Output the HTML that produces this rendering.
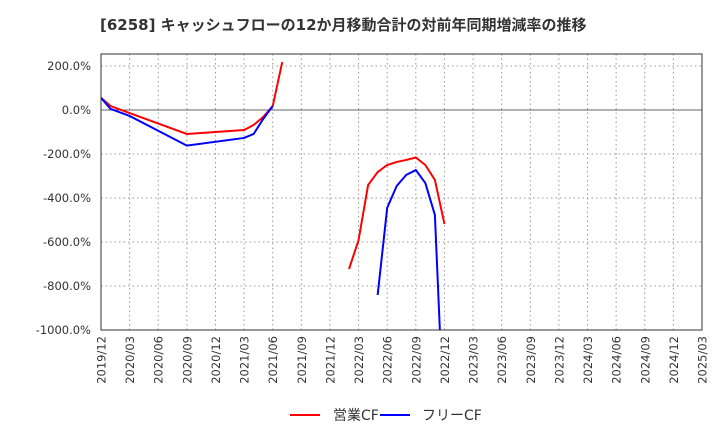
<!DOCTYPE html>
<html><head><meta charset="utf-8"><style>
body{margin:0;background:#fff;font-family:"DejaVu Sans","Noto Sans CJK JP",sans-serif}
</style></head><body>
<svg id="c" width="720" height="440" xmlns="http://www.w3.org/2000/svg" font-family="DejaVu Sans, Noto Sans CJK JP, sans-serif">
<text x="100" y="30" font-size="15" font-weight="bold" fill="#333">[6258]  キャッシュフローの12か月移動合計の対前年同期増減率の推移</text>
<defs><clipPath id="pc"><rect x="101" y="54" width="601" height="276"/></clipPath></defs>
<g id="grid"></g><g id="series" clip-path="url(#pc)"></g><g id="axes"></g>
<g>
<line x1="290" y1="415" x2="320" y2="415" stroke="#f00" stroke-width="2"/>
<text x="333" y="420" font-size="14" fill="#333">営業CF</text>
<line x1="380" y1="415" x2="410" y2="415" stroke="#00f" stroke-width="2"/>
<text x="422" y="420" font-size="14" fill="#333">フリーCF</text>
</g>
</svg>
<script>
const xLabels=["2019/12","2020/03","2020/06","2020/09","2020/12","2021/03","2021/06","2021/09","2021/12","2022/03","2022/06","2022/09","2022/12","2023/03","2023/06","2023/09","2023/12","2024/03","2024/06","2024/09","2024/12","2025/03"];
const yTicks=[200,0,-200,-400,-600,-800,-1000];
const opMonths=[0,1,3,9,15,16,17,18,19, 26,27,28,29,30,31,32,33,34,35,36];
const opVals=[55,18,-14,-109,-91,-68,-32,18,218, -723,-591,-341,-282,-250,-236,-227,-216,-250,-318,-518];
const opSeg=[0,0,0,0,0,0,0,0,0, 1,1,1,1,1,1,1,1,1,1,1];
const fcMonths=[0,1,3,9,15,16,17,18, 29,30,31,32,33,34,35,36];
const fcVals=[55,5,-27,-162,-127,-109,-41,18, -841,-445,-345,-295,-273,-332,-477,-1480];
const fcSeg=[0,0,0,0,0,0,0,0, 1,1,1,1,1,1,1,1];
const X=m=>101+m*601/63, Y=v=>110-v*44/200;
const ns="http://www.w3.org/2000/svg";
function mk(t,a,p){const e=document.createElementNS(ns,t);for(const k in a)e.setAttribute(k,a[k]);p.appendChild(e);return e;}
const g=document.getElementById('grid'),ax=document.getElementById('axes'),s=document.getElementById('series');
xLabels.forEach((l,i)=>{const x=X(i*3);
 const ln=mk('line',{x1:x,x2:x,y1:54,y2:330,stroke:'#999','stroke-dasharray':'1.5,3'},g);
 
 const t=mk('text',{transform:`translate(${x+4.5},336) rotate(-90)`,'text-anchor':'end','font-size':11.5,fill:'#333'},ax);t.textContent=l;
 });
yTicks.forEach(v=>{const y=Y(v);
 const ln=mk('line',{x1:101,x2:702,y1:y,y2:y,stroke:v==0?'#666':'#999','stroke-dasharray':v==0?'none':'1.5,3'},g);
 
 const t=mk('text',{x:91,y:y+4,'text-anchor':'end','font-size':11.5,fill:'#333'},ax);t.textContent=v.toFixed(1)+'%';
 });
const fr=mk('rect',{x:101,y:54,width:601,height:276,fill:'none',stroke:'#333'},ax);

function draw(ms,vs,sg,col,name){const segs={};ms.forEach((m,i)=>{(segs[sg[i]]=segs[sg[i]]||[]).push(X(m)+','+Y(vs[i]));});
 Object.values(segs).forEach(pts=>{const p=mk('polyline',{points:pts.join(' '),fill:'none',stroke:col,'stroke-width':2},s);
 });}
draw(opMonths,opVals,opSeg,'#f00','operating-cf-line');
draw(fcMonths,fcVals,fcSeg,'#00f','free-cf-line');
</script>
</body></html>
